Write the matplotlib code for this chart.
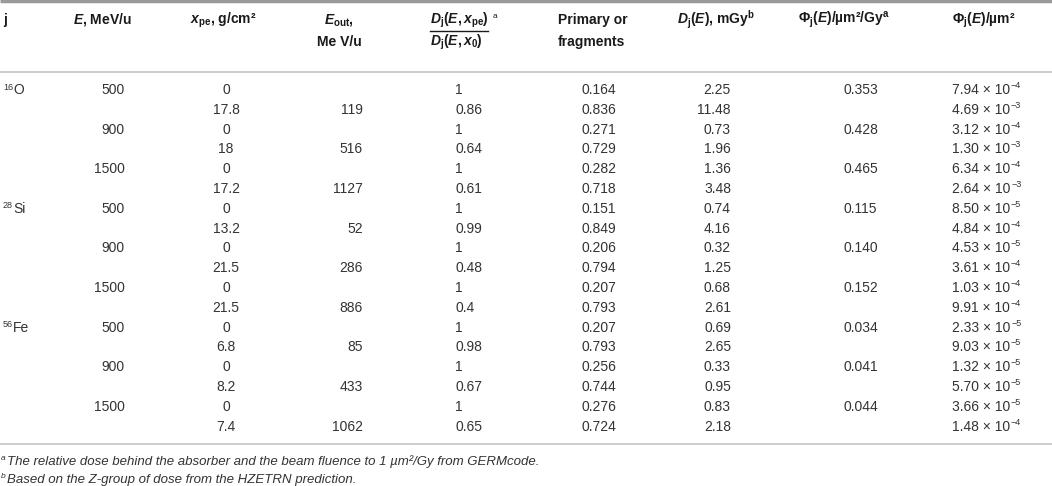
import matplotlib
matplotlib.use("Agg")
import matplotlib.pyplot as plt

plt.rcParams['font.family'] = ['Liberation Sans', 'DejaVu Sans']
plt.rcParams['mathtext.fontset'] = 'custom'
plt.rcParams['mathtext.rm'] = 'Liberation Sans:bold'
plt.rcParams['mathtext.bf'] = 'Liberation Sans:bold'
plt.rcParams['mathtext.it'] = 'Liberation Sans:italic'
plt.rcParams['mathtext.bfit'] = 'Liberation Sans:bold:italic'

# table data
ion_mass = ['16', '28', '56']
ion_names = ['O', 'Si', 'Fe']
energies = [500, 900, 1500]
x_pe = ['0', '17.8', '0', '18', '0', '17.2',
        '0', '13.2', '0', '21.5', '0', '21.5',
        '0', '6.8', '0', '8.2', '0', '7.4']
e_out = ['', '119', '', '516', '', '1127',
         '', '52', '', '286', '', '886',
         '', '85', '', '433', '', '1062']
dose_ratio = ['1', '0.86', '1', '0.64', '1', '0.61',
              '1', '0.99', '1', '0.48', '1', '0.4',
              '1', '0.98', '1', '0.67', '1', '0.65']
fraction = ['0.164', '0.836', '0.271', '0.729', '0.282', '0.718',
            '0.151', '0.849', '0.206', '0.794', '0.207', '0.793',
            '0.207', '0.793', '0.256', '0.744', '0.276', '0.724']
dose = ['2.25', '11.48', '0.73', '1.96', '1.36', '3.48',
        '0.74', '4.16', '0.32', '1.25', '0.68', '2.61',
        '0.69', '2.65', '0.33', '0.95', '0.83', '2.18']
fluence_per_gy = ['0.353', '0.428', '0.465',
                  '0.115', '0.140', '0.152',
                  '0.034', '0.041', '0.044']
fluence_mant = ['7.94', '4.69', '3.12', '1.30', '6.34', '2.64',
                '8.50', '4.84', '4.53', '3.61', '1.03', '9.91',
                '2.33', '9.03', '1.32', '5.70', '3.66', '1.48']
fluence_exp = [-4, -3, -4, -3, -4, -3,
               -5, -4, -5, -4, -4, -4,
               -5, -5, -5, -5, -5, -4]

W, H = 1052, 486
fig = plt.figure(figsize=(W / 100, H / 100), dpi=100)
ax = fig.add_axes([0, 0, 1, 1])
ax.set_xlim(0, W)
ax.set_ylim(H, 0)
ax.axis('off')

DATA_C = '#333333'
HEAD_C = '#1a1a1a'
FS = 10
SUP_FS = 6.5

row_y0, row_dy = 90, 19.8


def ry(i):
    return row_y0 + i * row_dy


def cell(x, i, s, ha):
    return ax.text(x, ry(i), s, ha=ha, va='center', fontsize=FS, color=DATA_C)


def sup_after(artist, s, color=DATA_C, fs=SUP_FS):
    # small raised text right after another text artist
    ax.annotate(s, xy=(1, 1), xycoords=artist, xytext=(0.5, 1.5),
                textcoords='offset points', ha='left', va='top',
                fontsize=fs, color=color)


# rules
ax.plot([0, W], [1.5, 1.5], color='#9a9a9a', lw=2.5, solid_capstyle='butt')
ax.plot([0, W], [72, 72], color='#c8c8c8', lw=1.3, solid_capstyle='butt')
ax.plot([0, W], [444, 444], color='#c8c8c8', lw=1.3, solid_capstyle='butt')

# header
hk = dict(fontsize=FS, fontweight='bold', color=HEAD_C, va='center')
h1, h2 = 20, 42
ax.text(3, h1, 'j', ha='left', **hk)
ax.text(73, h1, r'$\mathbfit{E}$, MeV/u', ha='left', **hk)
ax.text(190, h1, r'$\mathbfit{x}_{\mathrm{pe}}$, g/cm²', ha='left', **hk)
ax.text(339, h1, r'$\mathbfit{E}_{\mathrm{out}}$,', ha='center', **hk)
ax.text(339, h2, 'Me V/u', ha='center', **hk)
ax.text(430, h1, r'$\mathbfit{D}_{\mathrm{j}}(\mathbfit{E},\mathbfit{x}_{\mathrm{pe}})$', ha='left', **hk)
ax.text(493, h1 - 4, 'a', ha='left', va='center', fontsize=6, color=HEAD_C)
ax.plot([430, 488], [31, 31], color=HEAD_C, lw=1.0)
ax.text(430, h2, r'$\mathbfit{D}_{\mathrm{j}}(\mathbfit{E},\mathbfit{x}_{0})$', ha='left', **hk)
ax.text(558, h1, 'Primary or', ha='left', **hk)
ax.text(558, h2, 'fragments', ha='left', **hk)
ax.text(677, h1, r'$\mathbfit{D}_{\mathrm{j}}(\mathbfit{E})$, mGy$^{\mathrm{b}}$', ha='left', **hk)
ax.text(798, h1, r'$\Phi_{\mathrm{j}}(\mathbfit{E})$/µm²/Gy$^{\mathrm{a}}$', ha='left', **hk)
ax.text(952, h1, r'$\Phi_{\mathrm{j}}(\mathbfit{E})$/µm²', ha='left', **hk)

# body
for k in range(len(ion_names)):
    i0 = k * 6
    t = ax.text(3, ry(i0) - 3, ion_mass[k], ha='left', va='center',
                fontsize=SUP_FS, color=DATA_C)
    ax.annotate(ion_names[k], xy=(1, 0.5), xycoords=t, xytext=(0, -3),
                textcoords='offset pixels', ha='left', va='center',
                fontsize=FS, color=DATA_C)
    for m, e in enumerate(energies):
        i = i0 + m * 2
        cell(125, i, str(e), 'right')
        cell(843, i, fluence_per_gy[k * 3 + m], 'left')

for i in range(len(x_pe)):
    cell(226, i, x_pe[i], 'center')
    cell(363, i, e_out[i], 'right')
    cell(455, i, dose_ratio[i], 'left')
    cell(582, i, fraction[i], 'left')
    cell(731, i, dose[i], 'right')
    t = cell(952, i, f'{fluence_mant[i]} × 10', 'left')
    sup_after(t, '\u2212' + str(-fluence_exp[i]))

# footnotes
fk = dict(fontsize=9.5, style='italic', color=DATA_C, va='center', ha='left')
ax.text(1, 458, 'a', fontsize=6, style='italic', color=DATA_C, va='center', ha='left')
ax.text(7, 462, 'The relative dose behind the absorber and the beam fluence to 1 µm²/Gy from GERMcode.', **fk)
ax.text(1, 476, 'b', fontsize=6, style='italic', color=DATA_C, va='center', ha='left')
ax.text(7, 480, 'Based on the Z-group of dose from the HZETRN prediction.', **fk)

fig.savefig('out.png', dpi=100)
